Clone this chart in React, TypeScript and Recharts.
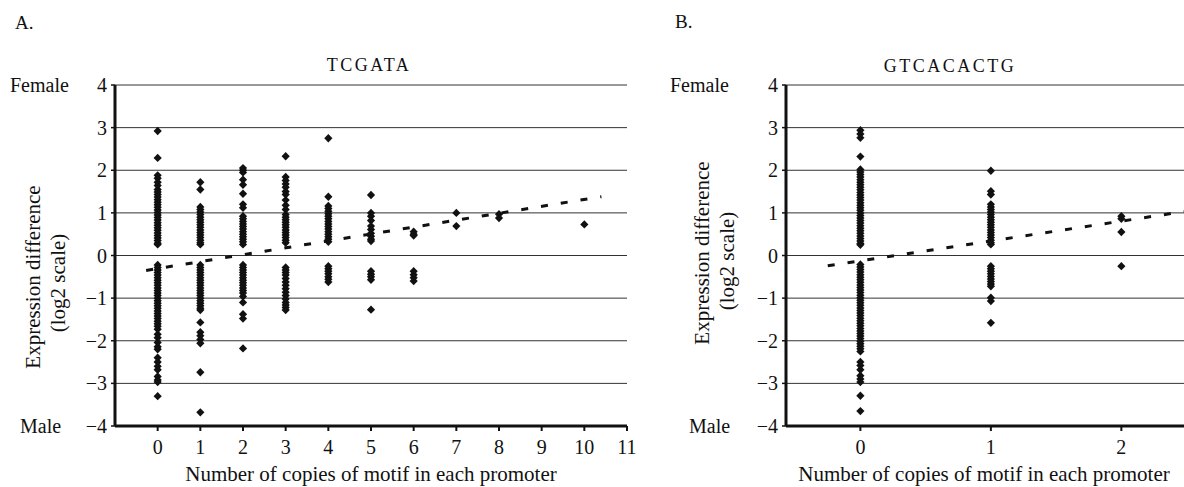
import React from "react";
import { CartesianGrid, ReferenceLine, Scatter, ScatterChart, XAxis, YAxis } from "recharts";

const FONT = "'Liberation Serif', 'Times New Roman', serif";
const INK = "#111";

// y ticks shared by both panels (log2 expression difference)
const yTicks = [-4, -3, -2, -1, 0, 1, 2, 3, 4];

// Panel A: TCGATA, values per copy count
const copiesA = [0, 1, 2, 3, 4, 5, 6, 7, 8, 10];
const a0 = [2.92, 2.29, 1.88, 1.81, 1.72, 1.64, 1.55, 1.49, 1.43, 1.37, 1.31, 1.25, 1.19, 1.13, 1.07, 1.01, 0.95, 0.89, 0.83, 0.77, 0.71, 0.65, 0.59, 0.53, 0.47, 0.41, 0.35, 0.29, 0.26,
  -0.22, -0.28, -0.34, -0.4, -0.46, -0.52, -0.58, -0.64, -0.7, -0.76, -0.82, -0.88, -0.94, -1.0, -1.06, -1.12, -1.18, -1.24, -1.3, -1.36, -1.42, -1.48, -1.54, -1.6, -1.66, -1.73,
  -1.85, -1.93, -2.04, -2.14, -2.2, -2.4, -2.5, -2.6, -2.68, -2.84, -2.92, -2.97, -3.3];
const a1 = [1.72, 1.55, 1.14, 1.08, 1.02, 0.96, 0.9, 0.84, 0.78, 0.72, 0.66, 0.6, 0.54, 0.48, 0.42, 0.36, 0.3, 0.26,
  -0.22, -0.28, -0.34, -0.4, -0.46, -0.52, -0.58, -0.64, -0.7, -0.76, -0.82, -0.88, -0.94, -1.0, -1.06, -1.12, -1.18, -1.24, -1.28,
  -1.57, -1.8, -1.88, -1.97, -2.06, -2.74, -3.68];
const a2 = [2.05, 2.0, 1.95, 1.78, 1.66, 1.45, 1.2, 1.12, 0.92, 0.86, 0.8, 0.74, 0.68, 0.62, 0.56, 0.5, 0.44, 0.38, 0.32, 0.26,
  -0.22, -0.28, -0.34, -0.4, -0.46, -0.52, -0.58, -0.64, -0.7, -0.76, -0.82, -0.88, -0.96, -1.1, -1.38, -1.48, -2.18];
const a3 = [2.33, 1.84, 1.76, 1.68, 1.6, 1.5, 1.43, 1.3, 1.18, 1.08, 0.96, 0.9, 0.84, 0.78, 0.72, 0.66, 0.6, 0.54, 0.48, 0.42, 0.36, 0.3,
  -0.28, -0.34, -0.4, -0.46, -0.54, -0.62, -0.7, -0.78, -0.86, -0.94, -1.02, -1.1, -1.16, -1.22, -1.28];
const a4 = [2.75, 1.38, 1.16, 1.1, 1.04, 0.98, 0.92, 0.86, 0.8, 0.74, 0.68, 0.62, 0.56, 0.5, 0.44, 0.38, 0.32,
  -0.25, -0.31, -0.37, -0.43, -0.5, -0.56, -0.62];
const a5 = [1.42, 1.0, 0.92, 0.82, 0.69, 0.61, 0.52, 0.45, 0.38, 0.34, -0.37, -0.44, -0.5, -0.57, -1.27];
const a6 = [0.56, 0.5, 0.47, -0.37, -0.45, -0.52, -0.6];
const a7 = [1.0, 0.69];
const a8 = [0.97, 0.88];
const a10 = [0.73];
const valuesA = [a0, a1, a2, a3, a4, a5, a6, a7, a8, a10];
const xTicksA = [0, 1, 2, 3, 4, 5, 6, 7, 8, 9, 10, 11];
const trendA = [{ x: -0.27, y: -0.35 }, { x: 10.4, y: 1.38 }];

// Panel B: GTCACACTG
const copiesB = [0, 1, 2];
const b0 = [2.94, 2.85, 2.76, 2.32, 2.02, 1.96, 1.9, 1.84, 1.78, 1.72, 1.66, 1.6, 1.54, 1.48, 1.42, 1.36, 1.3, 1.24, 1.18, 1.12, 1.06, 1.0,
  0.94, 0.88, 0.82, 0.76, 0.7, 0.64, 0.58, 0.52, 0.46, 0.4, 0.34, 0.28, 0.25,
  -0.21, -0.27, -0.33, -0.39, -0.45, -0.51, -0.57, -0.63, -0.69, -0.75, -0.81, -0.87, -0.93, -0.99, -1.05, -1.11, -1.17, -1.23, -1.29,
  -1.35, -1.41, -1.47, -1.53, -1.59, -1.65, -1.71, -1.77, -1.83, -1.89, -1.95, -2.01, -2.07, -2.13, -2.19, -2.25,
  -2.5, -2.58, -2.68, -2.82, -2.9, -2.97, -3.29, -3.65];
const b1 = [1.99, 1.51, 1.43, 1.2, 1.14, 1.08, 1.02, 0.96, 0.9, 0.84, 0.78, 0.72, 0.66, 0.6, 0.54, 0.48, 0.42, 0.36, 0.3, 0.26,
  -0.25, -0.31, -0.37, -0.43, -0.49, -0.55, -0.61, -0.67, -0.72, -0.99, -1.07, -1.58];
const b2 = [0.92, 0.86, 0.55, -0.25];
const valuesB = [b0, b1, b2];
const xTicksB = [0, 1, 2];
const trendB = [{ x: -0.25, y: -0.24 }, { x: 2.48, y: 1.03 }];

const toPoints = (copies: number[], values: number[][]) =>
  copies.flatMap((c, i) => values[i].map((y) => ({ x: c, y })));

const fmtY = (v: number) => (v < 0 ? `\u2212${Math.abs(v)}` : `${v}`);

const Diamond = (props: any) => {
  const { cx, cy } = props;
  if (cx == null || cy == null) return null;
  return <path d={`M${cx},${cy - 4.2}L${cx + 4.1},${cy}L${cx},${cy + 4.2}L${cx - 4.1},${cy}Z`} fill={INK} />;
};

interface PanelProps {
  width: number;
  margin: { top: number; right: number; bottom: number; left: number };
  xDomain: [number, number];
  xTicks: number[];
  points: { x: number; y: number }[];
  trend: { x: number; y: number }[];
}

function Panel({ width, margin, xDomain, xTicks, points, trend }: PanelProps) {
  return (
    <ScatterChart width={width} height={487} margin={margin}>
      <CartesianGrid vertical={false} stroke="#333" strokeWidth={1} />
      <XAxis
        type="number"
        dataKey="x"
        domain={xDomain}
        ticks={xTicks}
        interval={0}
        allowDataOverflow
        height={30}
        axisLine={{ stroke: INK, strokeWidth: 3 }}
        tickLine={{ stroke: INK, strokeWidth: 2 }}
        tickSize={5}
        tickMargin={9}
        tick={{ fontSize: 20, fill: INK, fontFamily: FONT }}
      />
      <YAxis
        type="number"
        dataKey="y"
        domain={[-4, 4]}
        ticks={yTicks}
        interval={0}
        allowDataOverflow
        width={50}
        axisLine={{ stroke: INK, strokeWidth: 3 }}
        tickLine={{ stroke: INK, strokeWidth: 1.5 }}
        tickSize={4}
        tickMargin={4}
        tickFormatter={fmtY}
        tick={{ fontSize: 20, fill: INK, fontFamily: FONT }}
      />
      <Scatter data={points} shape={Diamond} isAnimationActive={false} />
      <ReferenceLine
        segment={trend}
        stroke={INK}
        strokeWidth={3}
        strokeDasharray="7 13"
        ifOverflow="hidden"
      />
    </ScatterChart>
  );
}

export default function App() {
  const txt = { fontFamily: FONT, fill: INK } as const;
  return (
    <div style={{ position: "absolute", left: 0, top: 0, width: 1184, height: 487, background: "#fff", overflow: "hidden" }}>
      <div style={{ position: "absolute", left: 0, top: 0 }}>
        <Panel
          width={640}
          margin={{ top: 85, right: 13, bottom: 31, left: 65 }}
          xDomain={[-1, 11]}
          xTicks={xTicksA}
          points={toPoints(copiesA, valuesA)}
          trend={trendA}
        />
      </div>
      <div style={{ position: "absolute", left: 700, top: 0 }}>
        <Panel
          width={484}
          margin={{ top: 85, right: 0, bottom: 31, left: 36 }}
          xDomain={[-0.57, 2.48]}
          xTicks={xTicksB}
          points={toPoints(copiesB, valuesB)}
          trend={trendB}
        />
      </div>
      <svg width={1184} height={487} style={{ position: "absolute", left: 0, top: 0, pointerEvents: "none" }}>
        <text x={15} y={29} fontSize={19} {...txt}>A.</text>
        <text x={675} y={28} fontSize={19} {...txt}>B.</text>
        <text x={369} y={71} fontSize={18} letterSpacing={2.5} textAnchor="middle" {...txt}>TCGATA</text>
        <text x={950} y={72} fontSize={18} letterSpacing={2.5} textAnchor="middle" {...txt}>GTCACACTG</text>
        <text x={10} y={92} fontSize={20} {...txt}>Female</text>
        <text x={20} y={433} fontSize={20} {...txt}>Male</text>
        <text x={670} y={92} fontSize={20} {...txt}>Female</text>
        <text x={689} y={433} fontSize={20} {...txt}>Male</text>
        <text transform="translate(33,277) rotate(-90)" fontSize={21} textAnchor="middle" dominantBaseline="central" {...txt}>Expression difference</text>
        <text transform="translate(58,283) rotate(-90)" fontSize={21} textAnchor="middle" dominantBaseline="central" {...txt}>(log2 scale)</text>
        <text transform="translate(702,253) rotate(-90)" fontSize={21} textAnchor="middle" dominantBaseline="central" {...txt}>Expression difference</text>
        <text transform="translate(727,261) rotate(-90)" fontSize={21} textAnchor="middle" dominantBaseline="central" {...txt}>(log2 scale)</text>
        <text x={371} y={481} fontSize={21} textAnchor="middle" {...txt}>Number of copies of motif in each promoter</text>
        <text x={984} y={481} fontSize={21} textAnchor="middle" {...txt}>Number of copies of motif in each promoter</text>
      </svg>
    </div>
  );
}
